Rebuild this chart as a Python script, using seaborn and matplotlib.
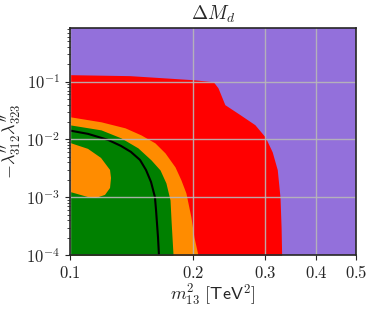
import numpy as np
import pandas as pd
import seaborn as sns
import matplotlib
matplotlib.use("Agg")
import matplotlib.pyplot as plt

# boundaries (x = m13^2 [TeV^2], y = -lambda'' lambda'')
red_x = [0.1, 0.14, 0.2, 0.224, 0.23, 0.239, 0.26, 0.283, 0.3, 0.312, 0.321, 0.326, 0.328, 0.329]
red_y = [0.132, 0.127, 0.108, 0.0996, 0.078, 0.040, 0.027, 0.018, 0.011, 0.0061, 0.0030, 0.0010, 0.0003, 1e-4]

orange_x = [0.1, 0.1191, 0.1363, 0.1491, 0.1613, 0.1707, 0.1806, 0.1867, 0.1920, 0.1975, 0.2009, 0.2055]
orange_y = [0.0247, 0.0202, 0.0159, 0.0120, 0.00873, 0.00586, 0.00335, 0.0020, 0.00119, 0.000456, 0.000205, 1e-4]

green_x = [0.1, 0.1191, 0.1332, 0.1466, 0.1578, 0.1660, 0.1716, 0.1756, 0.1766, 0.1786]
green_y = [0.0179, 0.01466, 0.01066, 0.00715, 0.00443, 0.00297, 0.00177, 0.000897, 0.000404, 1e-4]

blob_x = [0.1, 0.1107, 0.1191, 0.1253, 0.1260, 0.1253, 0.1218, 0.1157, 0.1107, 0.1]
blob_y = [0.00873, 0.00688, 0.00480, 0.00297, 0.00216, 0.00145, 0.0011, 0.000973, 0.00101, 0.00124]

line_x = [0.1, 0.1107, 0.1239, 0.1332, 0.1409, 0.1483, 0.1534, 0.1578, 0.1613, 0.1623, 0.1641, 0.1650]
line_y = [0.01426, 0.0125, 0.00984, 0.00775, 0.0061, 0.00443, 0.00297, 0.00184, 0.00101, 0.000603, 0.000205, 1e-4]

x_ticks = [0.1, 0.2, 0.3, 0.4, 0.5]
y_ticks = [1e-4, 1e-3, 1e-2, 1e-1]
y_tick_labels = [r"$10^{-4}$", r"$10^{-3}$", r"$10^{-2}$", r"$10^{-1}$"]

sns.set_style("ticks")
plt.rcParams["mathtext.fontset"] = "cm"
plt.rcParams["font.family"] = ["DejaVu Serif"]

fig = plt.figure(figsize=(3.74, 3.10), dpi=100)
ax = fig.add_axes([0.187, 0.177, 0.765, 0.733])
ax.set_xscale("log")
ax.set_yscale("log")
ax.set_facecolor("mediumpurple")

ax.fill_betweenx(red_y, 0.1, red_x, color="red", lw=0)
ax.fill_betweenx(orange_y, 0.1, orange_x, color="darkorange", lw=0)
ax.fill_betweenx(green_y, 0.1, green_x, color="green", lw=0)
ax.fill(blob_x, blob_y, color="darkorange", lw=0)

df = pd.DataFrame({"x": line_x, "y": line_y})
sns.lineplot(data=df, x="x", y="y", sort=False, estimator=None, color="black",
             lw=1.5, solid_joinstyle="round", ax=ax)

ax.set_xlim(0.1, 0.5)
ax.set_ylim(1e-4, 0.85)
ax.set_xticks(x_ticks)
ax.set_xticklabels([rf"${v:g}$" for v in x_ticks])
ax.xaxis.set_minor_locator(matplotlib.ticker.NullLocator())
ax.set_yticks(y_ticks)
ax.set_yticklabels(y_tick_labels)
ax.tick_params(labelsize=12)
ax.tick_params(axis="y", which="minor", length=2.5)

ax.grid(True, which="major", color="#b8b8b8", lw=1, alpha=0.9)
ax.set_axisbelow(False)
for s in ax.spines.values():
    s.set_linewidth(1.2)
    s.set_zorder(5)

ax.set_xlabel(r"$m_{13}^2\ [\mathsf{TeV}^2]$", fontsize=13, labelpad=1)
ax.set_ylabel(r"$-\lambda^{\prime\prime}_{312}\lambda^{\prime\prime}_{323}$", fontsize=13, labelpad=2)
ax.set_title(r"$\Delta M_d$", fontsize=14, pad=6)

fig.savefig("out.png", dpi=100)
